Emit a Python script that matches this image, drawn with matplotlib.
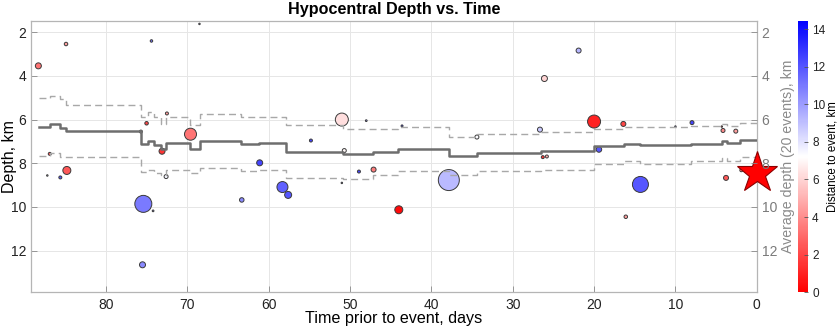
import numpy as np
import matplotlib
matplotlib.use("Agg")
import matplotlib.pyplot as plt
from matplotlib.colors import LinearSegmentedColormap, Normalize

plt.rcParams['font.family'] = ['Liberation Sans', 'DejaVu Sans']

# Catalogue events: time before the mainshock (days), depth (km),
# epicentral distance to the mainshock (km) and magnitude.
days = [88.3, 84.9, 74.4, 68.5, 87.2, 85.6, 84.8, 75.4, 74.2, 75.5,
        72.6, 86.9, 75.0, 72.5, 73.1, 69.6, 75.7, 54.8, 51.0, 48.0,
        50.7, 61.1, 63.3, 58.3, 57.6, 51.0, 48.9, 47.1, 44.0, 43.6,
        34.4, 26.1, 26.65, 21.9, 26.3, 25.8, 37.85, 20.0, 16.4, 19.4,
        10.0, 7.96, 4.15, 4.3, 2.58, 14.3, 16.1, 3.78, 1.9]
depth = [3.54, 2.54, 2.40, 1.62, 8.56, 8.65, 8.33, 9.86, 10.18, 12.65,
         8.61, 7.57, 6.17, 5.72, 7.45, 6.67, 6.55, 6.96, 6.00, 6.05,
         7.42, 7.98, 9.68, 9.09, 9.45, 8.90, 8.38, 8.29, 10.13, 6.29,
         6.80, 4.12, 6.46, 2.84, 7.72, 7.69, 8.77, 6.09, 6.20, 7.37,
         6.32, 6.14, 6.50, 6.32, 6.53, 8.97, 10.45, 8.67, 8.32]
distance = [3.3, 4.5, 11.0, 9.0, 8.0, 12.0, 2.5, 11.0, 10.0, 10.5,
            7.5, 2.5, 2.0, 4.5, 1.5, 3.3, 7.0, 12.5, 6.3, 10.0,
            7.0, 12.5, 10.5, 11.7, 12.0, 10.0, 12.5, 3.5, 0.3, 13.0,
            7.3, 6.0, 8.7, 9.3, 1.5, 5.0, 9.2, 1.0, 2.0, 12.0,
            10.0, 12.5, 4.0, 3.0, 4.5, 12.0, 4.5, 2.5, 4.0]
magnitude = [1.2, 0.7, 0.5, 0.3, 0.3, 0.6, 1.6, 3.4, 0.35, 1.2,
             0.8, 0.6, 0.7, 0.6, 1.2, 2.4, 0.6, 0.6, 2.6, 0.35,
             0.8, 1.2, 0.9, 2.2, 1.4, 0.3, 0.6, 1.0, 1.6, 0.4,
             0.8, 1.2, 1.0, 1.0, 0.6, 0.6, 4.2, 2.6, 1.0, 1.1,
             0.3, 0.8, 0.8, 0.3, 0.8, 3.2, 0.7, 1.0, 0.6]

# Mainshock
main_day = 0.0
main_depth = 8.45

# Running 20-event average depth and its standard deviation (step changes)
avg_days = [88.24, 86.93, 85.61, 84.87, 75.65, 74.87, 74.13, 73.27, 72.66,
            69.71, 68.48, 63.43, 61.22, 57.90, 50.89, 47.20, 44.12, 37.85,
            34.40, 26.53, 20.01, 16.32, 14.35, 8.08, 4.27, 3.65, 2.06]
avg_depth = [6.35, 6.22, 6.40, 6.52, 7.14, 6.97, 7.16, 7.35, 7.09,
             7.34, 7.00, 7.12, 7.09, 7.48, 7.59, 7.49, 7.34, 7.67,
             7.51, 7.44, 7.23, 7.12, 7.18, 7.11, 6.97, 7.08, 6.93]
std_depth = [1.32, 1.30, 1.32, 1.18, 1.28, 1.32, 1.29, 1.17, 1.22,
             1.10, 1.24, 1.22, 1.23, 1.21, 1.15, 1.07, 1.00, 0.88,
             0.83, 0.85, 0.80, 0.76, 0.84, 0.80, 0.78, 0.80, 0.77]

x_ticks = [80, 70, 60, 50, 40, 30, 20, 10, 0]
y_ticks = [2, 4, 6, 8, 10, 12]
cbar_ticks = [0, 2, 4, 6, 8, 10, 12, 14]

DIST_MAX = 14.45
cmap = LinearSegmentedColormap.from_list('rwb', [(1, 0, 0), (1, 1, 1), (0, 0, 1)])
norm = Normalize(vmin=0, vmax=DIST_MAX)

fig = plt.figure(figsize=(8.39, 3.26), dpi=100)
ax = fig.add_axes([0.037, 0.104, 0.865, 0.832])

# marker area from magnitude (diameter grows linearly with magnitude)
sizes = [(5.0 * m * 0.72) ** 2 for m in magnitude]
ax.scatter(days, depth, s=sizes, c=distance, cmap=cmap, norm=norm,
           edgecolors='#3a3a3a', linewidths=0.7, zorder=3)

# running average with +/- one standard deviation
st_x = np.append(avg_days, 0.0)
mean = np.append(avg_depth, avg_depth[-1])
sd = np.append(std_depth, std_depth[-1])
ax.step(st_x, mean, where='post', color='#6e6e6e', lw=1.8, zorder=4)
ax.step(st_x, mean - sd, where='post', color='#a8a8a8', lw=1.0,
        dashes=(5, 3), zorder=4)
ax.step(st_x, mean + sd, where='post', color='#a8a8a8', lw=1.0,
        dashes=(5, 3), zorder=4)

ax.plot([main_day], [main_depth], marker='*', ms=31, color='red',
        markeredgecolor='#8a0000', markeredgewidth=0.8, clip_on=False,
        zorder=6, linestyle='none')

ax.set_xlim(89.2, 0)
ax.set_ylim(13.9, 1.48)
ax.set_xticks(x_ticks)
ax.set_yticks(y_ticks)
ax.grid(True, color='#e6e6e6', lw=0.7)
ax.set_axisbelow(True)
ax.tick_params(direction='in', length=4, width=0.6, color='#888888',
               labelsize=10, labelcolor='#222222', top=False, right=False)
ax.tick_params(axis='x', pad=4)
for sp in ax.spines.values():
    sp.set_color('#b5b5b5')
    sp.set_linewidth(0.9)

ax.set_title('Hypocentral Depth vs. Time', fontsize=11.6, fontweight='bold', pad=5)
ax.set_xlabel('Time prior to event, days', fontsize=11.6)
ax.xaxis.set_label_coords(0.5, -0.071)
ax.set_ylabel('Depth, km', fontsize=11.5)
ax.yaxis.set_label_coords(-0.019, 0.5)

ax2 = ax.twinx()
ax2.set_ylim(13.9, 1.48)
ax2.set_yticks(y_ticks)
ax2.tick_params(direction='in', length=4, width=0.6, color='#888888',
                labelsize=10, labelcolor='#7a7a7a')
ax2.set_ylabel('Average depth (20 events), km', fontsize=10.2, color='#8a8a8a')
ax2.yaxis.set_label_coords(1.034, 0.5)
for sp in ax2.spines.values():
    sp.set_visible(False)

cax = fig.add_axes([0.951, 0.104, 0.012, 0.832])
sm = matplotlib.cm.ScalarMappable(norm=norm, cmap=cmap)
cb = fig.colorbar(sm, cax=cax, ticks=cbar_ticks)
cb.outline.set_visible(False)
cb.ax.tick_params(direction='in', length=3, width=0.6, labelsize=8.5,
                  color='#555555', labelcolor='#222222', pad=3)
cb.set_label('Distance to event, km', fontsize=8.3)
cb.ax.yaxis.set_label_coords(2.8, 0.5)

fig.savefig('out.png', dpi=100)
